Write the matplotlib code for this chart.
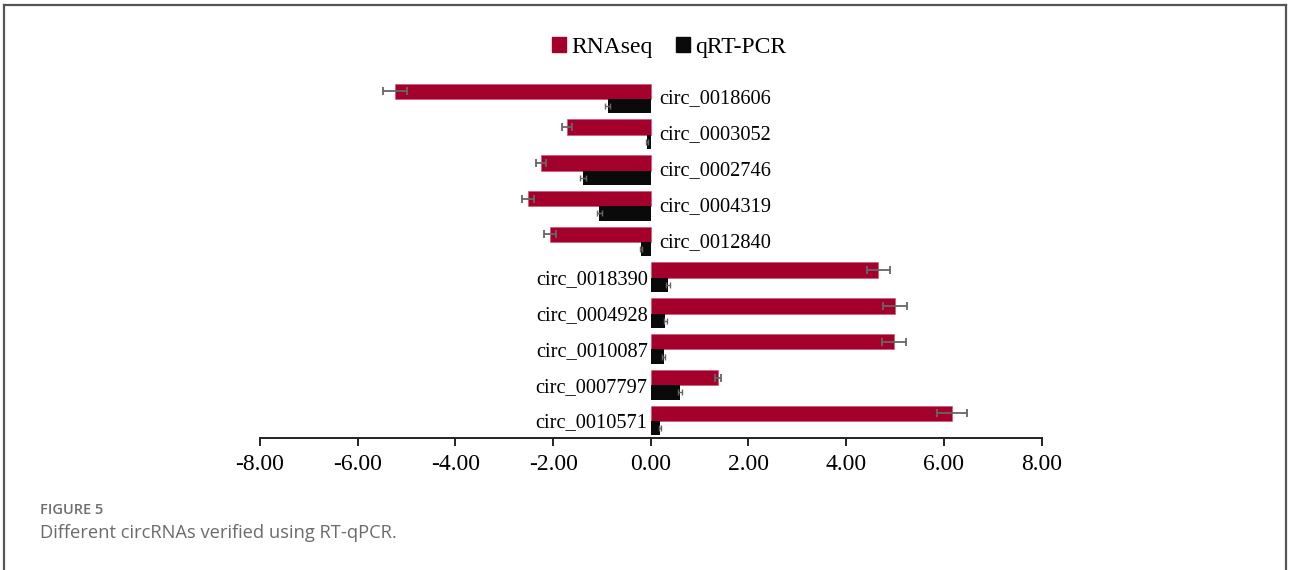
import matplotlib.pyplot as plt
from matplotlib.patches import Patch
from matplotlib.lines import Line2D
import numpy as np

# circRNA fold changes: RNAseq vs qRT-PCR
circ_names = ['circ_0018606', 'circ_0003052', 'circ_0002746', 'circ_0004319',
              'circ_0012840', 'circ_0018390', 'circ_0004928', 'circ_0010087',
              'circ_0007797', 'circ_0010571']
rnaseq = [-5.24, -1.71, -2.24, -2.52, -2.07, 4.66, 5.00, 4.98, 1.38, 6.17]
rnaseq_err = [0.24, 0.10, 0.10, 0.12, 0.12, 0.23, 0.25, 0.24, 0.06, 0.30]
qpcr = [-0.88, -0.08, -1.38, -1.05, -0.20, 0.35, 0.30, 0.27, 0.60, 0.18]
qpcr_err = [0.05, 0.02, 0.06, 0.06, 0.03, 0.04, 0.03, 0.03, 0.04, 0.02]
xticks = [-8, -6, -4, -2, 0, 2, 4, 6, 8]

red = '#A3002B'
blk = '#0a0a0a'
err_col = '#666666'

fig = plt.figure(figsize=(12.9, 5.7), dpi=100)
ax = fig.add_axes([260 / 1290, 132 / 570, 781.5 / 1290, 368 / 570])

y = np.arange(len(circ_names))
ax.barh(y - 0.215, rnaseq, height=0.43, color=red, edgecolor='#c9506e', linewidth=0.4)
ax.barh(y + 0.2, qpcr, height=0.40, color=blk)
ax.errorbar(rnaseq, y - 0.215, xerr=rnaseq_err, fmt='none', ecolor=err_col,
            elinewidth=1.3, capsize=3, capthick=1.3, zorder=5)
ax.errorbar(qpcr, y + 0.2, xerr=qpcr_err, fmt='none', ecolor=err_col,
            elinewidth=1.0, capsize=2.5, capthick=1.0, zorder=5)

# names sit next to the zero line, on the side opposite the bars
for k, (name, v) in enumerate(zip(circ_names, rnaseq)):
    if v < 0:
        ax.annotate(name, (0, k), xytext=(9, 0), textcoords='offset pixels',
                    ha='left', va='center', fontsize=14.7, family='Liberation Serif')
    else:
        ax.annotate(name, (0, k), xytext=(-3, -2), textcoords='offset pixels',
                    ha='right', va='center', fontsize=14.7, family='Liberation Serif')

ax.set_xlim(-8, 8)
ax.set_ylim(9.475, -0.81)
ax.set_xticks(xticks)
ax.set_xticklabels([f'{t:.2f}' for t in xticks], family='Liberation Serif', fontsize=17)
ax.set_yticks([])
for s in ['left', 'right', 'top']:
    ax.spines[s].set_visible(False)
ax.spines['bottom'].set_linewidth(1.4)
ax.spines['bottom'].set_color('#222222')
ax.tick_params(axis='x', direction='out', length=5.5, width=1.4, color='#222222', pad=6)

handles = [Patch(color=red), Patch(color=blk)]
fig.legend(handles, ['RNAseq', 'qRT-PCR'], loc='center', bbox_to_anchor=(669 / 1290, 1 - 47 / 570),
           ncol=2, frameon=False, prop={'family': 'Liberation Serif', 'size': 17},
           handlelength=0.6, handleheight=0.6, handletextpad=0.2, columnspacing=1.0)

# caption
fig.text(40 / 1290, 1 - 510 / 570, 'FIGURE 5', fontsize=10.5, family='Open Sans',
         fontweight='semibold', color='#6e6e6e', va='center')
fig.text(40 / 1290, 1 - 533 / 570, 'Different circRNAs verified using RT-qPCR.', fontsize=13.2,
         family='Open Sans', color='#6b6b6b', va='center')

# page frame (open at the bottom)
frame = dict(color='#555555', linewidth=1.6, transform=fig.transFigure)
fig.add_artist(Line2D([4 / 1290, 1286 / 1290], [1 - 5 / 570, 1 - 5 / 570], **frame))
fig.add_artist(Line2D([4 / 1290, 4 / 1290], [0, 1 - 5 / 570], **frame))
fig.add_artist(Line2D([1286 / 1290, 1286 / 1290], [0, 1 - 5 / 570], **frame))

fig.savefig('out.png', dpi=100)
